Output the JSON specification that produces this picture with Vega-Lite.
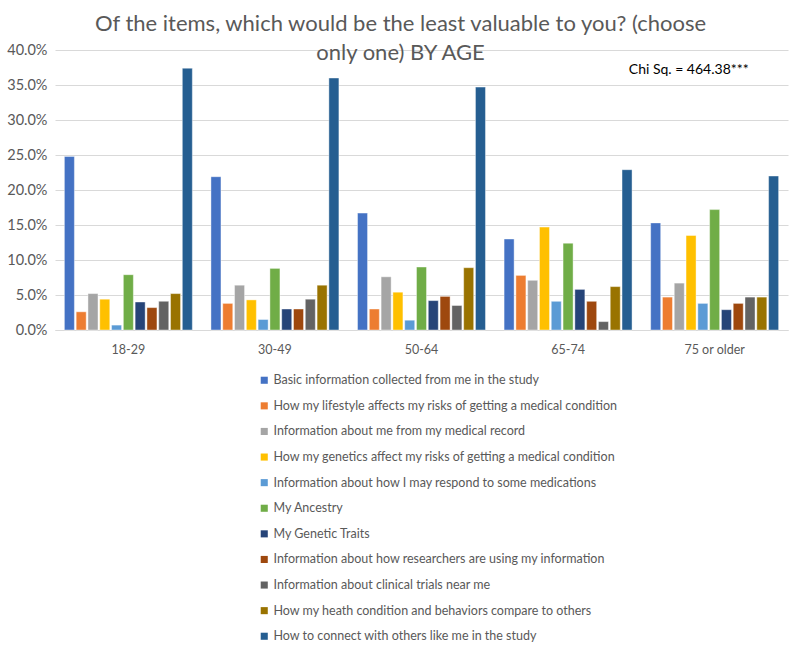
{
  "$schema": "https://vega.github.io/schema/vega-lite/v6.json",
  "autosize": "none",
  "width": 733,
  "height": 280,
  "padding": {"left": 55, "top": 50, "right": 12, "bottom": 319},
  "background": "white",
  "config": {
    "font": "Lato",
    "view": {"stroke": null},
    "axis": {"labelColor": "#595959", "labelFont": "Lato"}
  },
  "title": {
    "text": ["Of the items, which would be the least valuable to you? (choose", "only one) BY AGE"],
    "fontSize": 22,
    "fontWeight": "normal",
    "color": "#595959",
    "font": "Lato",
    "anchor": "middle",
    "dx": -21,
    "offset": -23,
    "lineHeight": 29
  },
  "resolve": {"axis": {"y": "independent", "x": "independent"}},
  "datasets": {
    "bars": [
      {"age": "18-29", "item": "Basic information collected from me in the study", "value": 0.248},
      {"age": "18-29", "item": "How my lifestyle affects my risks of getting a medical condition", "value": 0.026},
      {"age": "18-29", "item": "Information about me from my medical record", "value": 0.052},
      {"age": "18-29", "item": "How my genetics affect my risks of getting a medical condition", "value": 0.044},
      {"age": "18-29", "item": "Information about how I may respond to some medications", "value": 0.007},
      {"age": "18-29", "item": "My Ancestry", "value": 0.079},
      {"age": "18-29", "item": "My Genetic Traits", "value": 0.040},
      {"age": "18-29", "item": "Information about how researchers are using my information", "value": 0.032},
      {"age": "18-29", "item": "Information about clinical trials near me", "value": 0.041},
      {"age": "18-29", "item": "How my heath condition and behaviors compare to others", "value": 0.052},
      {"age": "18-29", "item": "How to connect with others like me in the study", "value": 0.374},
      {"age": "30-49", "item": "Basic information collected from me in the study", "value": 0.219},
      {"age": "30-49", "item": "How my lifestyle affects my risks of getting a medical condition", "value": 0.038},
      {"age": "30-49", "item": "Information about me from my medical record", "value": 0.064},
      {"age": "30-49", "item": "How my genetics affect my risks of getting a medical condition", "value": 0.043},
      {"age": "30-49", "item": "Information about how I may respond to some medications", "value": 0.015},
      {"age": "30-49", "item": "My Ancestry", "value": 0.088},
      {"age": "30-49", "item": "My Genetic Traits", "value": 0.030},
      {"age": "30-49", "item": "Information about how researchers are using my information", "value": 0.030},
      {"age": "30-49", "item": "Information about clinical trials near me", "value": 0.044},
      {"age": "30-49", "item": "How my heath condition and behaviors compare to others", "value": 0.064},
      {"age": "30-49", "item": "How to connect with others like me in the study", "value": 0.360},
      {"age": "50-64", "item": "Basic information collected from me in the study", "value": 0.167},
      {"age": "50-64", "item": "How my lifestyle affects my risks of getting a medical condition", "value": 0.030},
      {"age": "50-64", "item": "Information about me from my medical record", "value": 0.076},
      {"age": "50-64", "item": "How my genetics affect my risks of getting a medical condition", "value": 0.054},
      {"age": "50-64", "item": "Information about how I may respond to some medications", "value": 0.014},
      {"age": "50-64", "item": "My Ancestry", "value": 0.090},
      {"age": "50-64", "item": "My Genetic Traits", "value": 0.042},
      {"age": "50-64", "item": "Information about how researchers are using my information", "value": 0.048},
      {"age": "50-64", "item": "Information about clinical trials near me", "value": 0.035},
      {"age": "50-64", "item": "How my heath condition and behaviors compare to others", "value": 0.089},
      {"age": "50-64", "item": "How to connect with others like me in the study", "value": 0.347},
      {"age": "65-74", "item": "Basic information collected from me in the study", "value": 0.130},
      {"age": "65-74", "item": "How my lifestyle affects my risks of getting a medical condition", "value": 0.078},
      {"age": "65-74", "item": "Information about me from my medical record", "value": 0.071},
      {"age": "65-74", "item": "How my genetics affect my risks of getting a medical condition", "value": 0.147},
      {"age": "65-74", "item": "Information about how I may respond to some medications", "value": 0.041},
      {"age": "65-74", "item": "My Ancestry", "value": 0.124},
      {"age": "65-74", "item": "My Genetic Traits", "value": 0.058},
      {"age": "65-74", "item": "Information about how researchers are using my information", "value": 0.041},
      {"age": "65-74", "item": "Information about clinical trials near me", "value": 0.012},
      {"age": "65-74", "item": "How my heath condition and behaviors compare to others", "value": 0.062},
      {"age": "65-74", "item": "How to connect with others like me in the study", "value": 0.229},
      {"age": "75 or older", "item": "Basic information collected from me in the study", "value": 0.153},
      {"age": "75 or older", "item": "How my lifestyle affects my risks of getting a medical condition", "value": 0.047},
      {"age": "75 or older", "item": "Information about me from my medical record", "value": 0.067},
      {"age": "75 or older", "item": "How my genetics affect my risks of getting a medical condition", "value": 0.135},
      {"age": "75 or older", "item": "Information about how I may respond to some medications", "value": 0.038},
      {"age": "75 or older", "item": "My Ancestry", "value": 0.172},
      {"age": "75 or older", "item": "My Genetic Traits", "value": 0.029},
      {"age": "75 or older", "item": "Information about how researchers are using my information", "value": 0.038},
      {"age": "75 or older", "item": "Information about clinical trials near me", "value": 0.047},
      {"age": "75 or older", "item": "How my heath condition and behaviors compare to others", "value": 0.047},
      {"age": "75 or older", "item": "How to connect with others like me in the study", "value": 0.220}
    ],
    "note": [{"label": "Chi Sq. = 464.38***"}]
  },
  "layer": [
    {
      "data": {"name": "bars"},
      "mark": {"type": "bar", "stroke": "white", "strokeWidth": 0.6, "strokeOpacity": 0.7},
      "encoding": {
        "x": {
          "field": "age",
          "type": "nominal",
          "sort": ["18-29", "30-49", "50-64", "65-74", "75 or older"],
          "scale": {"paddingInner": 0.127, "paddingOuter": 0.064},
          "axis": {
            "title": null,
            "labelAngle": 0,
            "labelFontSize": 12.5,
            "labelPadding": 13,
            "ticks": false,
            "domainColor": "#D9D9D9",
            "domainWidth": 1
          }
        },
        "xOffset": {
          "field": "item",
          "type": "nominal",
          "sort": null,
          "scale": {"paddingInner": 0.15, "paddingOuter": 0}
        },
        "y": {
          "field": "value",
          "type": "quantitative",
          "scale": {"domain": [0, 0.4], "nice": false},
          "axis": {
            "title": null,
            "format": ".1%",
            "values": [0, 0.05, 0.1, 0.15, 0.2, 0.25, 0.3, 0.35, 0.4],
            "labelOverlap": false,
            "labelFontSize": 14.5,
            "labelPadding": 8,
            "ticks": false,
            "domain": false,
            "gridColor": "#D9D9D9",
            "gridWidth": 1
          }
        },
        "color": {
          "field": "item",
          "type": "nominal",
          "sort": null,
          "scale": {
            "domain": [
              "Basic information collected from me in the study",
              "How my lifestyle affects my risks of getting a medical condition",
              "Information about me from my medical record",
              "How my genetics affect my risks of getting a medical condition",
              "Information about how I may respond to some medications",
              "My Ancestry",
              "My Genetic Traits",
              "Information about how researchers are using my information",
              "Information about clinical trials near me",
              "How my heath condition and behaviors compare to others",
              "How to connect with others like me in the study"
            ],
            "range": ["#4472C4", "#ED7D31", "#A5A5A5", "#FFC000", "#5B9BD5", "#70AD47", "#264478", "#9E480E", "#636363", "#997300", "#255E91"]
          },
          "legend": {
            "title": null,
            "orient": "none",
            "legendX": 203,
            "legendY": 324,
            "direction": "vertical",
            "symbolType": "square",
            "symbolSize": 50,
            "symbolStrokeWidth": 0,
            "labelFontSize": 12.5,
            "labelColor": "#595959",
            "labelLimit": 500,
            "labelOffset": 3,
            "rowPadding": 12.6
          }
        }
      }
    },
    {
      "data": {"name": "note"},
      "mark": {"type": "text", "fontSize": 14, "color": "black", "align": "right", "baseline": "middle", "dx": 34, "font": "Lato"},
      "encoding": {
        "x": {"datum": "75 or older", "type": "nominal", "axis": null},
        "y": {"datum": 0.371, "type": "quantitative", "axis": null},
        "text": {"field": "label", "type": "nominal"}
      }
    }
  ]
}
